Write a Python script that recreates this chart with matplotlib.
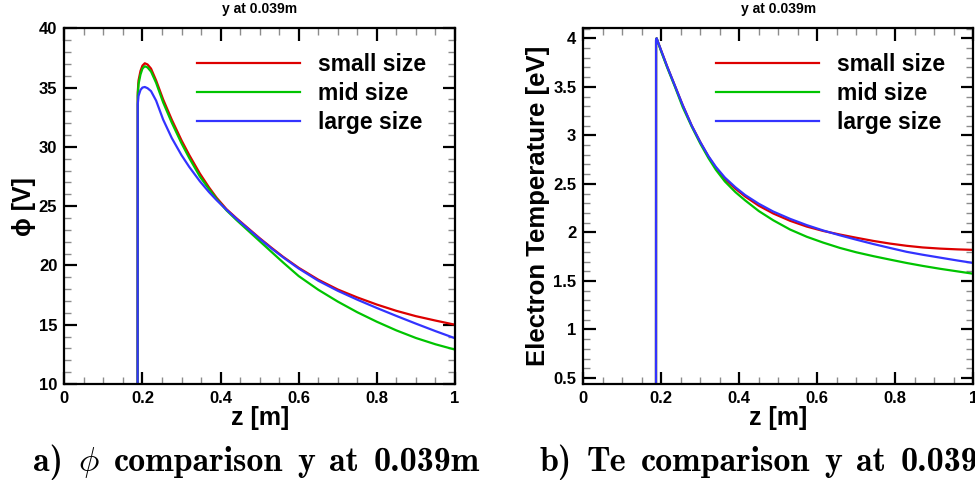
import os
import matplotlib
matplotlib.use("Agg")
import matplotlib.pyplot as plt
from matplotlib.ticker import MultipleLocator, FuncFormatter
from matplotlib.font_manager import FontProperties
from matplotlib.offsetbox import TextArea, HPacker, AnchoredOffsetbox

plt.rcParams['font.family'] = ['Liberation Sans', 'DejaVu Sans']
plt.rcParams['font.weight'] = 'bold'
plt.rcParams['mathtext.fontset'] = 'cm'

series_labels = ["small size", "mid size", "large size"]
colors = ["#dd0000", "#00c400", "#3333ff"]

# ---- left panel: potential phi [V] ----
z_phi = [0.1875, 0.188, 0.19, 0.195, 0.2, 0.206, 0.213, 0.222, 0.235, 0.253, 0.275,
         0.3, 0.32, 0.347, 0.37, 0.39, 0.415, 0.44, 0.47, 0.5, 0.53, 0.56, 0.6,
         0.65, 0.7, 0.75, 0.8, 0.85, 0.9, 0.95, 1.0]
phi_small = [0.0, 34.6, 35.6, 36.4, 36.85, 37.05, 36.95, 36.6, 35.6, 34.0, 32.3,
             30.55, 29.3, 27.75, 26.6, 25.7, 24.75, 24.0, 23.15, 22.3, 21.5, 20.73, 19.8,
             18.8, 17.97, 17.3, 16.7, 16.17, 15.72, 15.35, 15.0]
phi_mid = [0.0, 34.3, 35.3, 36.1, 36.6, 36.8, 36.7, 36.35, 35.4, 33.75, 32.05,
           30.3, 29.05, 27.5, 26.45, 25.6, 24.65, 23.85, 22.95, 22.05, 21.15, 20.25, 19.1,
           17.95, 16.95, 16.05, 15.25, 14.52, 13.88, 13.35, 12.9]
phi_large = [0.0, 33.6, 34.3, 34.8, 35.0, 35.05, 34.95, 34.7, 33.9, 32.3, 30.75,
             29.3, 28.3, 27.1, 26.2, 25.5, 24.7, 23.95, 23.1, 22.25, 21.44, 20.68, 19.74,
             18.71, 17.86, 17.11, 16.41, 15.74, 15.09, 14.46, 13.86]

# ---- right panel: electron temperature [eV] ----
z_te = [0.1864, 0.1866, 0.188, 0.2, 0.215, 0.235, 0.255, 0.278, 0.3, 0.321, 0.34,
        0.363, 0.39, 0.415, 0.45, 0.487, 0.53, 0.573, 0.615, 0.658, 0.7, 0.744,
        0.786, 0.829, 0.87, 0.915, 0.96, 1.0]
te_small = [0.0, 3.98, 4.0, 3.87, 3.71, 3.51, 3.31, 3.10, 2.93, 2.78, 2.665,
            2.55, 2.45, 2.37, 2.275, 2.195, 2.12, 2.06, 2.015, 1.978, 1.945, 1.912,
            1.885, 1.862, 1.845, 1.833, 1.825, 1.82]
te_mid = [0.0, 3.98, 4.0, 3.86, 3.70, 3.50, 3.29, 3.09, 2.915, 2.765, 2.645,
          2.525, 2.415, 2.33, 2.22, 2.125, 2.03, 1.955, 1.895, 1.84, 1.795, 1.755,
          1.72, 1.685, 1.655, 1.625, 1.598, 1.574]
te_large = [0.0, 3.98, 4.0, 3.87, 3.71, 3.51, 3.31, 3.10, 2.93, 2.785, 2.675,
            2.565, 2.465, 2.385, 2.295, 2.215, 2.14, 2.075, 2.02, 1.97, 1.925, 1.88,
            1.84, 1.80, 1.77, 1.74, 1.71, 1.685]

x_ticks = [0, 0.2, 0.4, 0.6, 0.8, 1.0]
title_text = "y at 0.039m"
caption_a = ["a)", r"$\phi$", "comparison", "y", "at", "0.039m"]
caption_b = ["b)", "Te", "comparison", "y", "at", "0.039m"]

W, H = 975, 484
fig = plt.figure(figsize=(W / 100, H / 100), dpi=100)
ax1 = fig.add_axes([64.3 / W, (H - 384) / H, 390.7 / W, 355.7 / H])
ax2 = fig.add_axes([583.3 / W, (H - 384) / H, 390.0 / W, 355.7 / H])


def fmt_g(v, pos):
    return "%g" % round(v, 3)


def style(ax, ymaj, ymin):
    ax.set_xlim(0, 1)
    ax.set_xticks(x_ticks)
    ax.xaxis.set_major_formatter(FuncFormatter(fmt_g))
    ax.xaxis.set_minor_locator(MultipleLocator(0.05))
    ax.yaxis.set_major_locator(MultipleLocator(ymaj))
    ax.yaxis.set_minor_locator(MultipleLocator(ymin))
    ax.yaxis.set_major_formatter(FuncFormatter(fmt_g))
    ax.tick_params(which='major', direction='in', length=9, width=1.6,
                   top=True, right=True, labelsize=12, pad=5)
    ax.tick_params(which='minor', direction='in', length=5, width=1.0,
                   top=True, right=True, color='#8c8c8c')
    for s in ax.spines.values():
        s.set_linewidth(1.6)
    for lab in ax.get_xticklabels() + ax.get_yticklabels():
        lab.set_fontweight('bold')
    ax.set_xlabel("z [m]", fontsize=18, fontweight='bold', labelpad=0)
    ax.text(0.5, 1.054, title_text, transform=ax.transAxes, fontsize=10,
            fontweight='bold', ha='center', va='center')


for vals, c, lab in zip([phi_small, phi_mid, phi_large], colors, series_labels):
    ax1.plot(z_phi, vals, color=c, lw=1.6, label=lab)
ax1.set_ylim(10, 40)
style(ax1, 5, 1)
ax1.set_ylabel("ϕ [V]", fontsize=18, fontweight='bold')
ax1.yaxis.set_label_coords(-0.072, 0.5)

for vals, c, lab in zip([te_small, te_mid, te_large], colors, series_labels):
    ax2.plot(z_te, vals, color=c, lw=1.6, label=lab)
ax2.set_ylim(0.438, 4.103)
style(ax2, 0.5, 0.1)
ax2.set_ylabel("Electron Temperature [eV]", fontsize=18.5, fontweight='bold')
ax2.yaxis.set_label_coords(-0.085, 0.5)

for ax in (ax1, ax2):
    leg = ax.legend(loc='upper left', bbox_to_anchor=(0.34, 0.931), frameon=False,
                    fontsize=16.5, handlelength=4.5, handletextpad=0.79,
                    labelspacing=0.26, borderpad=0, borderaxespad=0)
    for t in leg.get_texts():
        t.set_fontweight('bold')
    for l in leg.get_lines():
        l.set_linewidth(1.6)

# captions in Computer Modern bold
cmb_path = os.path.join(matplotlib.get_data_path(), 'fonts', 'ttf', 'cmb10.ttf')
CAP = 24.5


def caption(words, x, y, loc):
    parts = []
    for w in words:
        if w.startswith('$'):
            parts.append(TextArea(w, textprops=dict(fontsize=CAP)))
        else:
            fp = FontProperties(fname=cmb_path, size=CAP)
            parts.append(TextArea(w, textprops=dict(fontproperties=fp)))
    box = HPacker(children=parts, align='baseline', pad=0, sep=CAP * 0.42)
    anch = AnchoredOffsetbox(loc=loc, child=box, pad=0, borderpad=0, frameon=False,
                             bbox_to_anchor=(x / W, 1 - y / H),
                             bbox_transform=fig.transFigure)
    fig.add_artist(anch)


caption(caption_a, 256.5, 462, 'center')
caption(caption_b, 540, 462, 'center left')

fig.savefig("out.png", dpi=100)
